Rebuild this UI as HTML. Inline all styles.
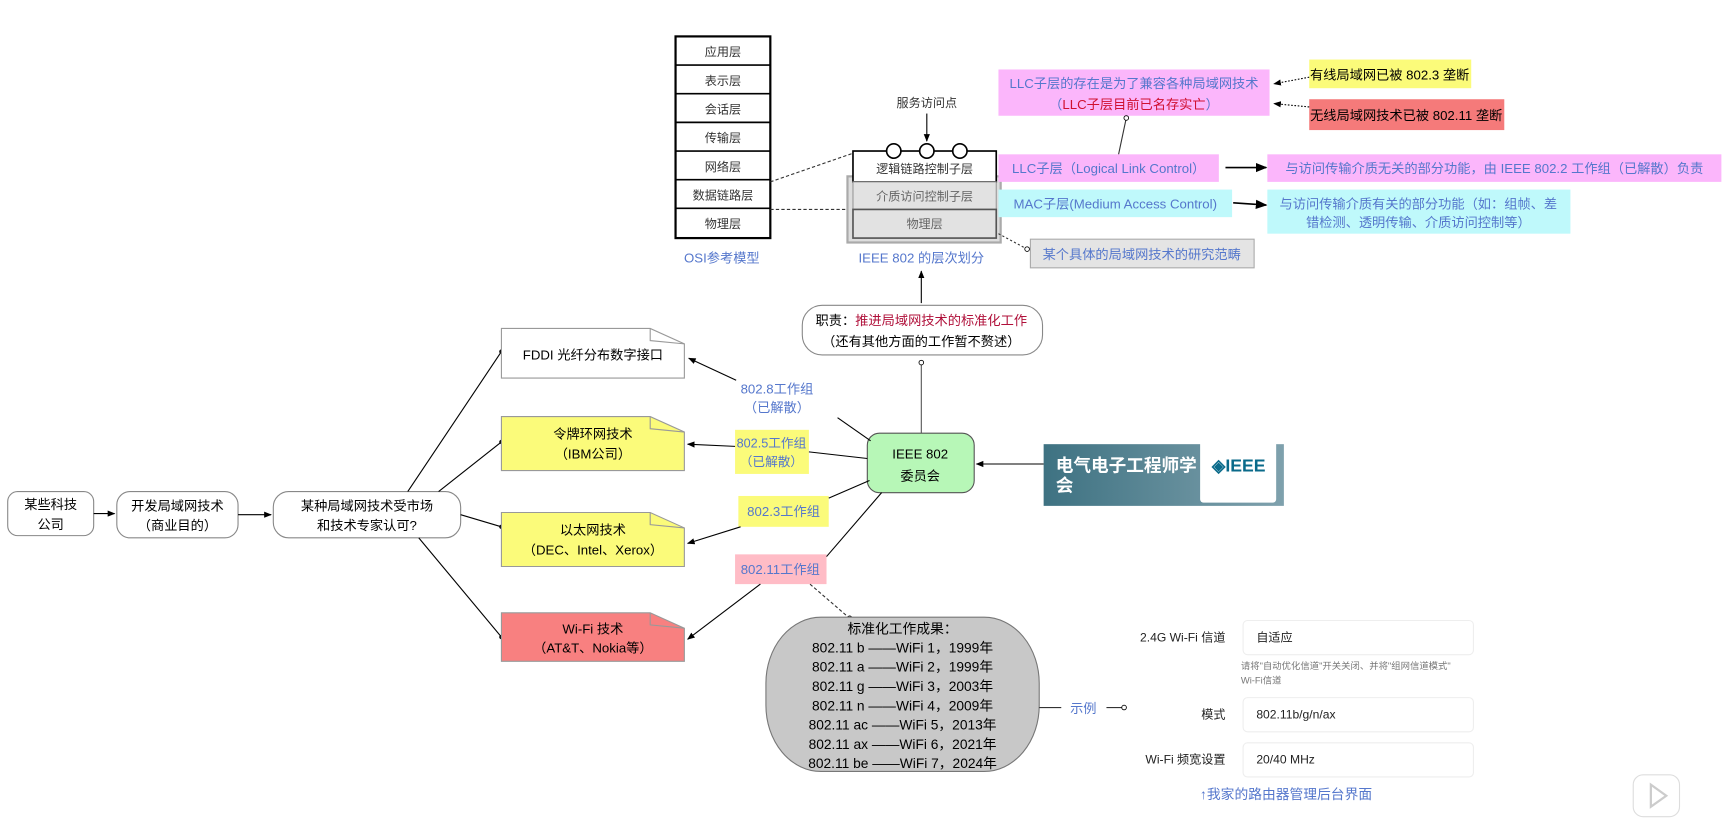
<!DOCTYPE html>
<html><head><meta charset="utf-8"><style>
html,body{margin:0;padding:0;background:#fff;width:1728px;height:820px;overflow:hidden}
svg text{font-family:"Liberation Sans","Noto Sans CJK SC",sans-serif}
</style></head><body>
<svg width="1728" height="820" viewBox="0 0 1568 744" xmlns="http://www.w3.org/2000/svg">
<defs>
<marker id="a" viewBox="0 0 10 10" refX="9" refY="5" markerWidth="7" markerHeight="7" orient="auto"><path d="M0,1 L10,5 L0,9 z" fill="#000"/></marker>
<marker id="d" viewBox="0 0 10 10" refX="5" refY="5" markerWidth="5" markerHeight="5"><circle cx="5" cy="5" r="4" fill="#000"/></marker>
<marker id="o" viewBox="0 0 10 10" refX="5" refY="5" markerWidth="6" markerHeight="6"><circle cx="5" cy="5" r="3.5" fill="#fff" stroke="#000" stroke-width="1.3"/></marker>
<linearGradient id="tg" x1="0" x2="1"><stop offset="0" stop-color="#3e7282"/><stop offset="1" stop-color="#7fa1ad"/></linearGradient>
</defs>
<g font-size="11" text-anchor="middle" fill="#333">
<!-- OSI -->
<rect x="613" y="33" width="86" height="183" fill="#fff" stroke="#000" stroke-width="2"/>
<g stroke="#000" stroke-width="1.5"><line x1="613" y1="59" x2="699" y2="59"/><line x1="613" y1="85" x2="699" y2="85"/><line x1="613" y1="111" x2="699" y2="111"/><line x1="613" y1="137" x2="699" y2="137"/><line x1="613" y1="163" x2="699" y2="163"/><line x1="613" y1="189" x2="699" y2="189"/></g>
<text x="656" y="51">应用层</text><text x="656" y="77">表示层</text><text x="656" y="103">会话层</text><text x="656" y="129">传输层</text><text x="656" y="155">网络层</text><text x="656" y="181">数据链路层</text><text x="656" y="207">物理层</text>
<text x="655" y="238" fill="#5577cc" font-size="12">OSI参考模型</text>
<line x1="699" y1="165" x2="774" y2="139" stroke="#333" stroke-dasharray="3,2"/>
<line x1="699" y1="190" x2="774" y2="190" stroke="#333" stroke-dasharray="3,2"/>
<!-- 802 stack -->
<rect x="769" y="160" width="139" height="60" fill="#ddd" stroke="#aaa" stroke-width="2"/>
<rect x="774" y="137" width="130" height="28" fill="#fff" stroke="#000" stroke-width="1.5"/>
<rect x="774" y="165" width="130" height="25" fill="#e2e2e2" stroke="#999"/>
<rect x="774" y="190" width="130" height="26" fill="#e2e2e2" stroke="#555" stroke-width="1.5"/>
<text x="839" y="157">逻辑链路控制子层</text><text x="839" y="182" fill="#666">介质访问控制子层</text><text x="839" y="207" fill="#666">物理层</text>
<g fill="#fff" stroke="#000" stroke-width="1.5"><circle cx="811" cy="137" r="6.5"/><circle cx="841" cy="137" r="6.5"/><circle cx="871" cy="137" r="6.5"/></g>
<text x="841" y="97">服务访问点</text>
<line x1="841" y1="103" x2="841" y2="128" stroke="#000" marker-end="url(#a)"/>
<text x="836" y="238" fill="#5577cc" font-size="12">IEEE 802 的层次划分</text>
<line x1="836" y1="275" x2="836" y2="246" stroke="#000" marker-end="url(#a)"/>
<!-- right top -->
<rect x="906" y="63" width="246" height="42" fill="#fbb6fb"/>
<text x="1029" y="80" fill="#5577cc" font-size="12">LLC子层的存在是为了兼容各种局域网技术</text>
<text x="1029" y="99" font-size="12"><tspan fill="#5577cc">（</tspan><tspan fill="#d01030">LLC子层目前已名存实亡</tspan><tspan fill="#5577cc">）</tspan></text>
<rect x="1188" y="54" width="147" height="26" fill="#fbfb7a"/>
<text x="1261" y="72" fill="#000" font-size="12">有线局域网已被 802.3 垄断</text>
<rect x="1188" y="90" width="177" height="28" fill="#f57a7a"/>
<text x="1276" y="109" fill="#000" font-size="12">无线局域网技术已被 802.11 垄断</text>
<line x1="1188" y1="70" x2="1156" y2="76" stroke="#000" stroke-dasharray="1.5,1.5" marker-end="url(#a)"/>
<line x1="1188" y1="97" x2="1156" y2="94" stroke="#000" stroke-dasharray="1.5,1.5" marker-end="url(#a)"/>
<line x1="1015" y1="140" x2="1022" y2="107" stroke="#333" marker-end="url(#o)"/>
<rect x="906" y="140" width="200" height="25" fill="#fbb6fb"/>
<text x="1006" y="157" fill="#5577cc" font-size="12">LLC子层（Logical Link Control）</text>
<line x1="1112" y1="152" x2="1149" y2="152" stroke="#000" stroke-width="1.5" marker-end="url(#a)"/>
<rect x="1150" y="140" width="412" height="25" fill="#fbb6fb"/>
<text x="1356" y="157" fill="#5577cc" font-size="12">与访问传输介质无关的部分功能，由 IEEE 802.2 工作组（已解散）负责</text>
<rect x="906" y="172" width="212" height="25" fill="#bff9fb"/>
<text x="1012" y="189" fill="#5577cc" font-size="12">MAC子层(Medium Access Control)</text>
<line x1="1119" y1="184" x2="1149" y2="186" stroke="#000" stroke-width="1.5" marker-end="url(#a)"/>
<rect x="1150" y="172" width="275" height="40" fill="#bff9fb"/>
<text x="1287" y="189" fill="#5577cc" font-size="12">与访问传输介质有关的部分功能（如：组帧、差</text>
<text x="1287" y="206" fill="#5577cc" font-size="12">错检测、透明传输、介质访问控制等）</text>
<rect x="935" y="217" width="203" height="26" fill="#e4e4e4" stroke="#aaa"/>
<text x="1036" y="235" fill="#5577cc" font-size="12">某个具体的局域网技术的研究范畴</text>
<line x1="906" y1="212" x2="932" y2="226" stroke="#333" stroke-dasharray="2,2" marker-end="url(#o)"/>
<!-- 职责 -->
<rect x="728" y="277" width="218" height="45" rx="18" fill="#fff" stroke="#888"/>
<text x="836" y="295" fill="#000" font-size="12">职责：<tspan fill="#b0103a">推进局域网技术的标准化工作</tspan></text>
<text x="836" y="314" fill="#000" font-size="12">（还有其他方面的工作暂不赘述）</text>
<line x1="836" y1="393" x2="836" y2="329" stroke="#555" marker-end="url(#o)"/>
<!-- IEEE 802 -->
<rect x="787" y="393" width="97" height="54" rx="11" fill="#b7f7b7" stroke="#555"/>
<text x="835" y="416" fill="#000" font-size="12">IEEE 802</text><text x="835" y="436" fill="#000" font-size="12">委员会</text>
<rect x="947" y="403" width="218" height="56" fill="url(#tg)"/>
<rect x="1089" y="386" width="69" height="70" rx="3" fill="#fff"/>
<text x="958" y="428" fill="#fff" font-size="16" font-weight="bold" text-anchor="start">电气电子工程师学</text>
<text x="958" y="446" fill="#fff" font-size="16" font-weight="bold" text-anchor="start">会</text>
<text x="1124" y="428" fill="#0a6a8a" font-size="16" font-weight="bold">◈IEEE</text>
<line x1="947" y1="421" x2="886" y2="421" stroke="#000" marker-end="url(#a)"/>
<!-- left chain -->
<rect x="7" y="446" width="78" height="40" rx="9" fill="#fff" stroke="#888"/>
<text x="46" y="462" fill="#000" font-size="12">某些科技</text><text x="46" y="480" fill="#000" font-size="12">公司</text>
<line x1="85" y1="466" x2="104" y2="466" stroke="#000" marker-end="url(#a)"/>
<rect x="106" y="446" width="110" height="42" rx="12" fill="#fff" stroke="#888"/>
<text x="161" y="463" fill="#000" font-size="12">开发局域网技术</text><text x="161" y="481" fill="#000" font-size="12">（商业目的）</text>
<line x1="216" y1="467" x2="246" y2="467" stroke="#000" marker-end="url(#a)"/>
<rect x="248" y="446" width="170" height="42" rx="14" fill="#fff" stroke="#888"/>
<text x="333" y="463" fill="#000" font-size="12">某种局域网技术受市场</text><text x="333" y="481" fill="#000" font-size="12">和技术专家认可?</text>
<g stroke="#000" marker-end="url(#d)">
<line x1="370" y1="446" x2="455" y2="319"/><line x1="398" y1="446" x2="455" y2="401"/><line x1="418" y1="467" x2="455" y2="478"/><line x1="380" y1="488" x2="455" y2="578"/></g>
<!-- doc boxes -->
<g stroke="#999">
<path d="M455,298 H590 L621,312 V343 H455 Z" fill="#fff"/>
<path d="M455,378 H590 L621,392 V427 H455 Z" fill="#fbfb7a"/>
<path d="M455,465 H590 L621,479 V514 H455 Z" fill="#fbfb7a"/>
<path d="M455,556 H590 L621,570 V600 H455 Z" fill="#f88080"/>
<path d="M590,298 V309 L621,312" fill="none"/><path d="M590,378 V389 L621,392" fill="none"/><path d="M590,465 V476 L621,479" fill="none"/><path d="M590,556 V567 L621,570" fill="none"/>
</g>
<text x="538" y="326" fill="#000" font-size="12">FDDI 光纤分布数字接口</text>
<text x="538" y="398" fill="#000" font-size="12">令牌环网技术</text><text x="538" y="416" fill="#000" font-size="12">（IBM公司）</text>
<text x="538" y="485" fill="#000" font-size="12">以太网技术</text><text x="538" y="503" fill="#000" font-size="12">（DEC、Intel、Xerox）</text>
<text x="538" y="575" fill="#000" font-size="12">Wi-Fi 技术</text><text x="538" y="592" fill="#000" font-size="12">（AT&amp;T、Nokia等）</text>
<!-- working groups -->
<text x="705" y="357" fill="#5577cc" font-size="12">802.8工作组</text><text x="705" y="374" fill="#5577cc" font-size="12">（已解散）</text>
<line x1="790" y1="400" x2="760" y2="379" stroke="#000"/>
<line x1="668" y1="345" x2="625" y2="325" stroke="#000" marker-end="url(#a)"/>
<rect x="667" y="390" width="67" height="40" fill="#fbfb7a"/>
<text x="700" y="406" fill="#5577cc" font-size="11.5">802.5工作组</text><text x="700" y="423" fill="#5577cc" font-size="11.5">（已解散）</text>
<line x1="787" y1="416" x2="734" y2="410" stroke="#000"/>
<line x1="667" y1="405" x2="624" y2="403" stroke="#000" marker-end="url(#a)"/>
<rect x="670" y="450" width="82" height="28" fill="#fbfb7a"/>
<text x="711" y="468" fill="#5577cc" font-size="12">802.3工作组</text>
<line x1="789" y1="436" x2="752" y2="452" stroke="#000"/>
<line x1="672" y1="478" x2="624" y2="493" stroke="#000" marker-end="url(#a)"/>
<rect x="667" y="503" width="83" height="27" fill="#ffbcc6"/>
<text x="708" y="521" fill="#5577cc" font-size="12">802.11工作组</text>
<line x1="800" y1="447" x2="750" y2="505" stroke="#000"/>
<line x1="690" y1="530" x2="624" y2="580" stroke="#000" marker-end="url(#a)"/>
<line x1="735" y1="530" x2="771" y2="561" stroke="#333" stroke-dasharray="3,2" marker-end="url(#o)"/>
<!-- results -->
<rect x="695" y="560" width="248" height="140" rx="50" ry="60" fill="#c8c8c8" stroke="#777"/>
<g fill="#000" font-size="12.5">
<text x="819" y="575">标准化工作成果：</text>
<text x="819" y="592">802.11 b ——WiFi 1，1999年</text>
<text x="819" y="609.5">802.11 a ——WiFi 2，1999年</text>
<text x="819" y="627">802.11 g ——WiFi 3，2003年</text>
<text x="819" y="644.5">802.11 n ——WiFi 4，2009年</text>
<text x="819" y="662">802.11 ac ——WiFi 5，2013年</text>
<text x="819" y="679.5">802.11 ax ——WiFi 6，2021年</text>
<text x="819" y="697">802.11 be ——WiFi 7，2024年</text></g>
<line x1="943" y1="642" x2="963" y2="642" stroke="#333"/>
<text x="983" y="647" fill="#5577cc" font-size="12">示例</text>
<line x1="1004" y1="642" x2="1020" y2="642" stroke="#333" marker-end="url(#o)"/>
<!-- router -->
<g fill="#222" font-size="11" text-anchor="end">
<text x="1112" y="582">2.4G Wi-Fi 信道</text><text x="1112" y="652">模式</text><text x="1112" y="693">Wi-Fi 频宽设置</text></g>
<g fill="#fff" stroke="#eee"><rect x="1128" y="563" width="209" height="31" rx="4"/><rect x="1128" y="633" width="209" height="31" rx="4"/><rect x="1128" y="674" width="209" height="31" rx="4"/></g>
<g fill="#222" font-size="11" text-anchor="start">
<text x="1140" y="582">自适应</text><text x="1140" y="652">802.11b/g/n/ax</text><text x="1140" y="693">20/40 MHz</text>
<text x="1126" y="607" fill="#777" font-size="8.5">请将"自动优化信道"开关关闭、并将"组网信道模式"</text>
<text x="1126" y="620" fill="#777" font-size="8.5">Wi-Fi信道</text></g>
<text x="1167" y="725" fill="#5577cc" font-size="12.5">↑我家的路由器管理后台界面</text>
<rect x="1482" y="703" width="42" height="38" rx="9" fill="#fff" stroke="#ddd"/>
<path d="M1498,712 L1512,722 L1498,732 Z" fill="none" stroke="#ccc" stroke-width="2"/>
</g>
</svg>
</body></html>
